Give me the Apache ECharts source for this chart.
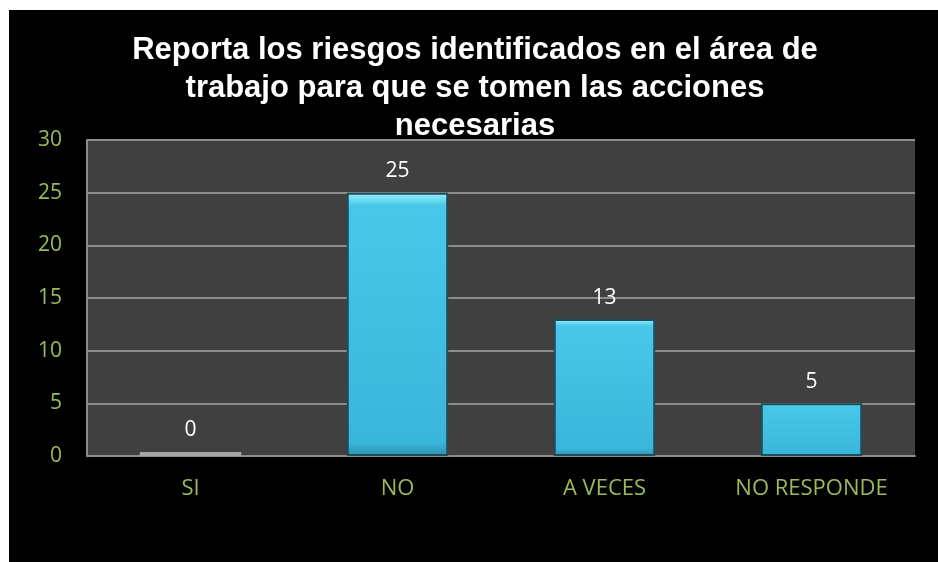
<!DOCTYPE html>
<html>
<head>
<meta charset="utf-8">
<script src="https://cdn.jsdelivr.net/npm/echarts@6/dist/echarts.min.js"></script>
<style>
  html, body { margin: 0; padding: 0; background: #ffffff; }
  #chart { position: absolute; left: 9px; top: 10px; width: 929px; height: 552px; background: #000000; }
</style>
</head>
<body>
<div id="chart"></div>
<script>
var categories = ['SI', 'NO', 'A VECES', 'NO RESPONDE'];
var values = [0, 25, 13, 5];
var yTicks = [0, 5, 10, 15, 20, 25, 30];

var chart = echarts.init(document.getElementById('chart'));

var barColor = new echarts.graphic.LinearGradient(0, 0, 0, 1, [
  { offset: 0, color: '#9af2ff' },
  { offset: 0.05, color: '#48c8e8' },
  { offset: 0.95, color: '#3ab6da' },
  { offset: 1, color: '#2b8fae' }
]);

var barData = values.map(function (v) {
  if (v === 0) {
    return { value: v, itemStyle: { color: '#a6a6a6', borderWidth: 0 } };
  }
  return v;
});

chart.setOption({
  backgroundColor: '#000000',
  animation: false,
  title: {
    text: 'Reporta los riesgos identificados en el área de\ntrabajo para que se tomen las acciones\nnecesarias',
    left: 466,
    top: 21,
    padding: 0,
    textAlign: 'center',
    textStyle: {
      color: '#ffffff',
      fontFamily: 'Liberation Sans',
      fontWeight: 'bold',
      fontSize: 31,
      lineHeight: 38
    }
  },
  grid: {
    left: 78, right: 23, top: 130, bottom: 106,
    show: true, backgroundColor: '#404040', borderWidth: 0
  },
  xAxis: {
    type: 'category',
    data: categories,
    axisLine: { lineStyle: { color: '#8c8c8c', width: 2 } },
    axisTick: { show: false },
    axisLabel: { color: '#9bbb59', fontFamily: 'Open Sans', fontSize: 22, margin: 22 }
  },
  yAxis: {
    type: 'value',
    min: yTicks[0],
    max: yTicks[yTicks.length - 1],
    interval: 5,
    axisLine: { show: true, lineStyle: { color: '#8c8c8c', width: 2 } },
    axisTick: { show: false },
    splitLine: { lineStyle: { color: '#8c8c8c', width: 2 } },
    axisLabel: { color: '#9bbb59', fontFamily: 'Open Sans', fontSize: 21, margin: 25 }
  },
  series: [{
    type: 'bar',
    data: barData,
    barWidth: '49%',
    barMinHeight: 4,
    itemStyle: { color: barColor, borderColor: '#1e4e5e', borderWidth: 2 },
    label: {
      show: true,
      position: 'top',
      distance: 11,
      color: '#ffffff',
      fontFamily: 'Open Sans',
      fontSize: 21
    }
  }]
});
</script>
</body>
</html>
